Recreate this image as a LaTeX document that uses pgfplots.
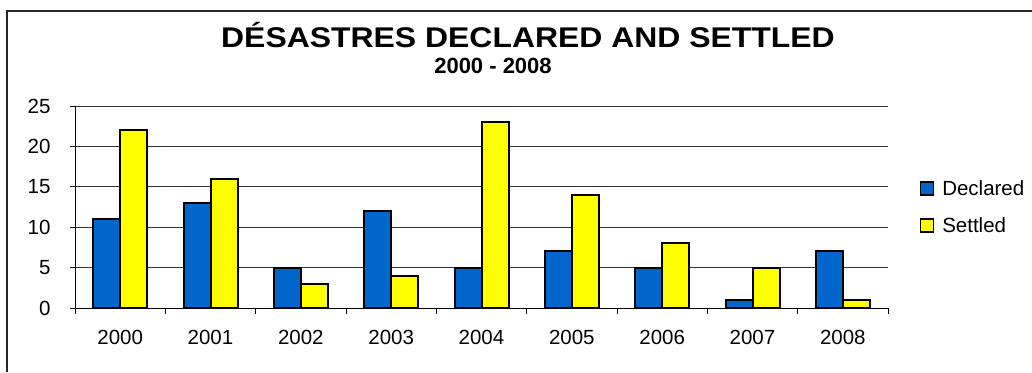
\documentclass[border=0pt]{standalone}
\usepackage{fontspec}
\setmainfont{Liberation Sans}
\usepackage{pgfplots}
\pgfplotsset{compat=1.18}
\usepackage{graphicx}

\definecolor{barblue}{RGB}{0,102,204}
\definecolor{baryellow}{RGB}{255,255,0}

\newcommand{\lblfont}{\fontsize{20.5bp}{24bp}\selectfont}

\begin{document}
\begin{tikzpicture}[x=1bp,y=1bp]
  \useasboundingbox (0,0) rectangle (1032,372);
  % chart frame
  \draw[line width=1.3bp, black!85] (7,0) -- (7,361) -- (1032,361);
  % titles
  \node[anchor=base, inner sep=0pt] at (528,324.3)
    {\scalebox{1.12}[1]{\fontsize{28.5bp}{32bp}\selectfont\bfseries DÉSASTRES DECLARED AND SETTLED}};
  \node[anchor=base, inner sep=0pt] at (493,298.7)
    {\fontsize{22bp}{26bp}\selectfont\bfseries 2000 - 2008};

  \begin{axis}[
    at={(75bp,64bp)}, anchor=south west,
    scale only axis,
    width=813bp, height=202bp,
    xmin=-0.5, xmax=8.5,
    ymin=0, ymax=25,
    ybar=0pt, bar width=27bp,
    axis x line=bottom, axis y line=left,
    axis line style={-, black, line width=0.9bp},
    ytick={0,5,10,15,20,25},
    xtick={0,...,8},
    xticklabels={2000,2001,2002,2003,2004,2005,2006,2007,2008},
    minor xtick={-0.5,0.5,...,8.5},
    major x tick style={draw=none},
    minor x tick style={black, line width=0.9bp},
    major y tick style={black, line width=0.9bp},
    tick align=outside,
    major tick length=5bp, minor tick length=6bp,
    ymajorgrids,
    grid style={black!80, line width=0.9bp},
    /pgf/number format/assume math mode=true,
    ticklabel style={font=\lblfont},
    yticklabel style={xshift=-16bp},
    xticklabel style={yshift=-14bp},
    legend style={draw=none, fill=none, font=\lblfont,
      at={(1.035,0.5)}, anchor=west,
      row sep=19bp,
      nodes={inner sep=1bp},
      /tikz/every odd column/.append style={column sep=7bp}},
    legend cell align=left,
    legend image code/.code={\draw[#1, line width=1.6bp] (0bp,-6.5bp) rectangle (13bp,6.5bp);},
  ]
    \addplot[fill=barblue, draw=black, line width=2bp]
      coordinates {(0,11) (1,13) (2,5) (3,12) (4,5) (5,7) (6,5) (7,1) (8,7)};
    \addplot[fill=baryellow, draw=black, line width=2bp]
      coordinates {(0,22) (1,16) (2,3) (3,4) (4,23) (5,14) (6,8) (7,5) (8,1)};
    \legend{Declared, Settled}
  \end{axis}
\end{tikzpicture}
\end{document}
